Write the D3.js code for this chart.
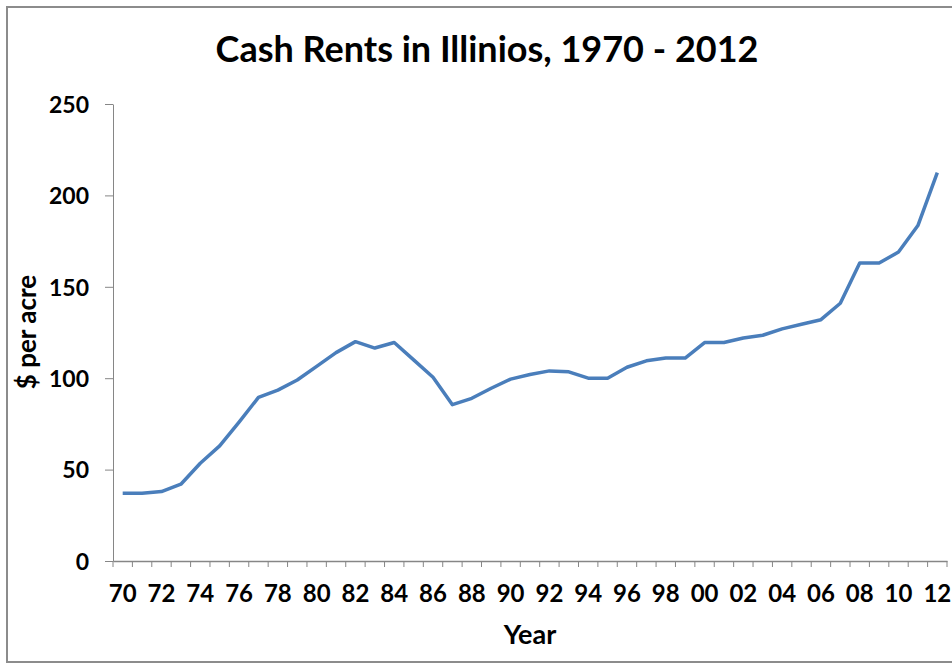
<!DOCTYPE html>
<html>
<head>
<meta charset="utf-8">
<script src="https://cdn.jsdelivr.net/npm/d3@7"></script>
<style>
  body { margin: 0; background: #fff; }
  text { font-family: Lato, "Open Sans", sans-serif; font-weight: bold; fill: #000; }
</style>
</head>
<body>
<script>
// data
var years = d3.range(1970, 2013);
var rents = [37, 37, 38, 42, 53.5, 63, 76, 89.5, 93.5, 99, 106.5, 114, 120, 116.5, 119.5, 110, 100.5, 85.5, 89, 94.5,
             99.5, 102, 104, 103.5, 100, 100, 106, 109.5, 111, 111, 119.5, 119.5, 122, 123.5, 127, 129.5, 132, 141, 163,
             163, 169, 183.5, 212.5];
var yTicks = [0, 50, 100, 150, 200, 250];

(function(){
    var width = 952, height = 664;
    var mLeft = 113, mRight = 947, mTop = 104, mBottom = 561;

    var svg = d3.select("body").append("svg")
        .attr("width", width)
        .attr("height", height);

    // chart frame
    svg.append("rect")
        .attr("x", 7).attr("y", 7)
        .attr("width", 960).attr("height", 655)
        .attr("fill", "#fff")
        .attr("stroke", "#8c8c8c")
        .attr("stroke-width", 2);

    var x = d3.scaleBand().domain(years).range([mLeft, mRight]);
    var y = d3.scaleLinear().domain([0, 250]).range([mBottom, mTop]);

    // y axis
    var yAxis = svg.append("g")
        .attr("transform", "translate(" + mLeft + ",0)")
        .call(d3.axisLeft(y).tickValues(yTicks).tickSize(8).tickPadding(16).tickSizeOuter(0));
    yAxis.select(".domain").attr("stroke", "#868686");
    yAxis.selectAll(".tick line").attr("stroke", "#868686");
    yAxis.selectAll(".tick text").style("font-size", "23px").attr("dy", "0.36em");

    // x axis, ticks at category borders
    var xAxis = svg.append("g")
        .attr("transform", "translate(0," + mBottom + ")")
        .call(d3.axisBottom(x).tickSize(0).tickPadding(24)
            .tickFormat(function(d){ return d % 2 === 0 ? String(d).slice(2) : ""; }));
    xAxis.select(".domain").attr("stroke", "#868686").attr("stroke-width", 1.5);
    xAxis.selectAll(".tick text").style("font-size", "24px").attr("dy", "0.71em");
    svg.append("g").selectAll("line")
        .data(years.concat([2013]))
        .enter().append("line")
        .attr("x1", function(d){ return d === 2013 ? mRight : x(d); })
        .attr("x2", function(d){ return d === 2013 ? mRight : x(d); })
        .attr("y1", mBottom).attr("y2", mBottom + 6)
        .attr("stroke", "#868686");

    // line
    var line = d3.line()
        .x(function(d, i){ return x(years[i]) + x.bandwidth() / 2; })
        .y(function(d){ return y(d); })
        .curve(d3.curveLinear);
    svg.append("path")
        .attr("d", line(rents))
        .attr("fill", "none")
        .attr("stroke", "#4a7ebb")
        .attr("stroke-width", 3.5)
        .attr("stroke-linejoin", "round");

    // titles
    svg.append("text")
        .attr("x", 487).attr("y", 62)
        .attr("text-anchor", "middle")
        .style("font-size", "36px")
        .text("Cash Rents in Illinios, 1970 - 2012");

    svg.append("text")
        .attr("x", 530).attr("y", 644)
        .attr("text-anchor", "middle")
        .style("font-size", "27px")
        .text("Year");

    svg.append("text")
        .attr("transform", "translate(36,332) rotate(-90)")
        .attr("text-anchor", "middle")
        .style("font-size", "26px")
        .text("$ per acre");
})();
</script>
</body>
</html>
